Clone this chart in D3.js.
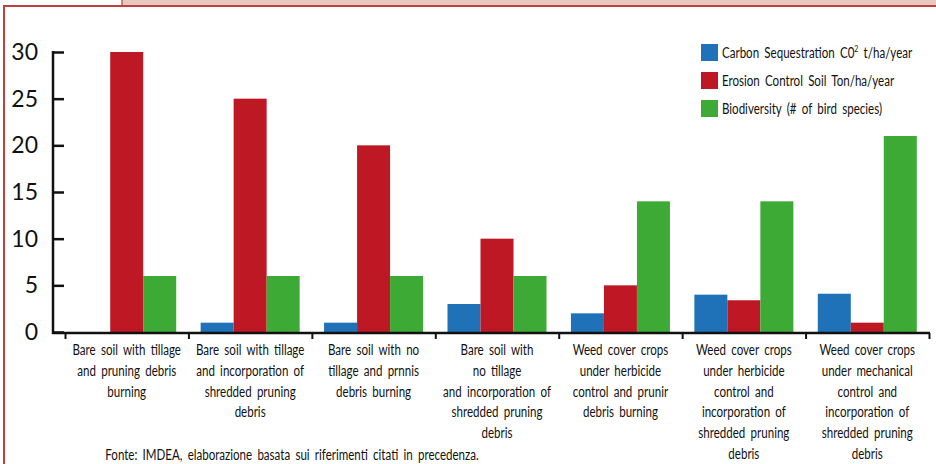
<!DOCTYPE html>
<html>
<head>
<meta charset="utf-8">
<script src="https://cdn.jsdelivr.net/npm/d3@7"></script>
<style>
  html, body { margin: 0; padding: 0; background: #fff; }
  svg { display: block; }
  .narrow { font-family: Lato, "Open Sans", sans-serif; fill: #111; }
</style>
</head>
<body>
<div id="chart"></div>
<script>
// category labels, one array per line
const categories = [
  ["Bare soil with tillage", "and pruning debris", "burning"],
  ["Bare soil with tillage", "and incorporation of", "shredded pruning", "debris"],
  ["Bare soil with no", "tillage and prnnis", "debris burning"],
  ["Bare soil with", "no tillage", "and incorporation of", "shredded pruning", "debris"],
  ["Weed cover crops", "under herbicide", "control and prunir", "debris burning"],
  ["Weed cover crops", "under herbicide", "control and", "incorporation of", "shredded pruning", "debris"],
  ["Weed cover crops", "under mechanical", "control and", "incorporation of", "shredded pruning", "debris"]
];

const seriesNames = ["carbon", "erosion", "biodiversity"];
const carbon = [0, 1, 1, 3, 2, 4, 4.1];
const erosion = [30, 25, 20, 10, 5, 3.4, 1];
const biodiversity = [6, 6, 6, 6, 14, 14, 21];

const yTicks = [0, 5, 10, 15, 20, 25, 30];
const footer = "Fonte: IMDEA, elaborazione basata sui riferimenti citati in precedenza.";

const colors = { carbon: "#1f72b8", erosion: "#be1824", biodiversity: "#3caa35" };

const width = 936, height = 464;
const squeeze = 0.77; // the original uses a condensed face
const svg = d3.select("#chart").append("svg")
  .attr("width", width)
  .attr("height", height);

// page frame
svg.append("rect")
  .attr("x", 122).attr("y", -2)
  .attr("width", width).attr("height", 8)
  .attr("fill", "#e8c9bd")
  .attr("stroke", "#c9625f").attr("stroke-width", 1.5);
svg.append("path")
  .attr("d", `M4,${height} V6 H${width}`)
  .attr("fill", "none")
  .attr("stroke", "#c0403e")
  .attr("stroke-width", 2);

// condensed text helper
function narrowText(parent, x, yy, anchor, size) {
  return parent.append("g")
    .attr("transform", `translate(${x},${yy}) scale(${squeeze},1)`)
    .append("text")
    .attr("class", "narrow")
    .attr("font-size", size)
    .attr("text-anchor", anchor)
    .attr("word-spacing", 3);
}

const data = categories.map((c, i) => ({
  idx: i,
  values: { carbon: carbon[i], erosion: erosion[i], biodiversity: biodiversity[i] }
}));

const x0 = d3.scaleBand()
  .domain(d3.range(categories.length))
  .range([65, 929])
  .padding(0);

const x1 = d3.scaleBand()
  .domain(seriesNames)
  .range([0, x0.bandwidth()])
  .paddingInner(0)
  .paddingOuter(0.37);

const y = d3.scaleLinear()
  .domain([0, 30])
  .range([332, 52]);

// bars
const groups = svg.selectAll(".grp")
  .data(data)
  .enter()
  .append("g")
  .attr("class", "grp")
  .attr("transform", d => `translate(${x0(d.idx)},0)`);

groups.selectAll("rect")
  .data(d => seriesNames.map(k => ({ key: k, value: d.values[k] })))
  .enter()
  .append("rect")
  .attr("x", d => x1(d.key))
  .attr("width", x1.bandwidth())
  .attr("y", d => y(d.value))
  .attr("height", d => y(0) - y(d.value))
  .attr("fill", d => colors[d.key]);

// y axis
const yAxis = svg.append("g")
  .attr("transform", "translate(53,0)")
  .call(d3.axisLeft(y).tickValues(yTicks).tickSize(-11).tickPadding(15));
yAxis.select(".domain").remove();
yAxis.selectAll(".tick line").attr("stroke", "#111").attr("stroke-width", 2.5);
yAxis.selectAll(".tick text")
  .attr("font-family", "Lato, 'Open Sans', sans-serif")
  .attr("font-size", 23)
  .attr("fill", "#111");
svg.append("line")
  .attr("x1", 53).attr("x2", 53)
  .attr("y1", 51).attr("y2", 334)
  .attr("stroke", "#111").attr("stroke-width", 2.5);

// x axis: ticks at band boundaries
const xb = d3.scaleLinear().domain([0, categories.length]).range([65, 929]);
const xAxis = svg.append("g")
  .attr("transform", "translate(0,333)")
  .call(d3.axisBottom(xb).tickValues(d3.range(categories.length + 1)).tickSize(6).tickFormat(""));
xAxis.select(".domain").remove();
xAxis.selectAll(".tick line").attr("stroke", "#111").attr("stroke-width", 2);
svg.append("line")
  .attr("x1", 52).attr("x2", 930)
  .attr("y1", 333).attr("y2", 333)
  .attr("stroke", "#111").attr("stroke-width", 2.5);

// category labels
categories.forEach((lines, i) => {
  lines.forEach((ln, j) => {
    narrowText(svg, x0(i) + x0.bandwidth() / 2, 355 + j * 20.8, "middle", 15).text(ln);
  });
});

// legend
const legendItems = [
  { key: "carbon", label: "Carbon Sequestration C0", sup: "2", rest: " t/ha/year" },
  { key: "erosion", label: "Erosion Control Soil Ton/ha/year" },
  { key: "biodiversity", label: "Biodiversity (# of bird species)" }
];
legendItems.forEach((it, i) => {
  const yy = 44 + i * 28;
  svg.append("rect")
    .attr("x", 701).attr("y", yy)
    .attr("width", 17).attr("height", 17)
    .attr("fill", colors[it.key]);
  const t = narrowText(svg, 722, yy + 14, "start", 15);
  t.append("tspan").text(it.label);
  if (it.sup) {
    t.append("tspan").attr("font-size", 9).attr("dy", -6).text(it.sup);
    t.append("tspan").attr("dy", 6).text(it.rest);
  }
});

// source note
narrowText(svg, 292, 460, "middle", 15).text(footer);
</script>
</body>
</html>
